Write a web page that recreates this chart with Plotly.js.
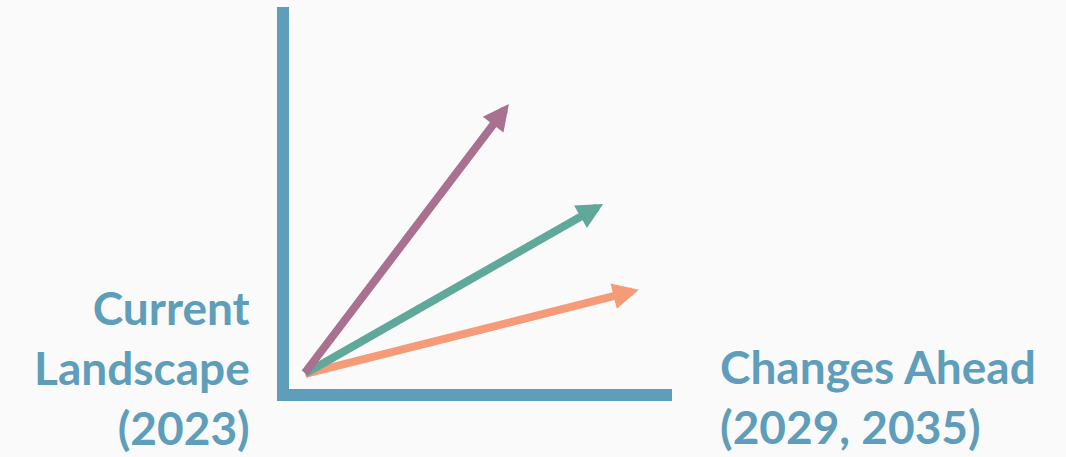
<!DOCTYPE html>
<html>
<head>
<meta charset="utf-8">
<script src="https://cdn.plot.ly/plotly-3.0.1.min.js"></script>
<style>
  html, body { margin: 0; padding: 0; background: #FAFAFA; }
  #chart { width: 1066px; height: 457px; }
</style>
</head>
<body>
<div id="chart"></div>
<script>
// ---- data ----
const arrowNames = ['2035 (high)', '2029', '2035 (low)'];
const arrowStartX = [0, 0, 0];
const arrowStartY = [0, 0, 0];
const arrowEndX = [5.57, 8.13, 9.10];
const arrowEndY = [7.36, 4.64, 2.30];
const leftLabel = ['Current', 'Landscape', '(2023)'];
const rightLabel = ['Changes Ahead', '(2029, 2035)'];

// ---- styles ----
const axisColor = '#5E9EBA';
const arrowColors = ['#AA7090', '#5FA89A', '#F59B78'];
const drawOrder = [2, 1, 0];

const annotations = [];
drawOrder.forEach(i => {
  annotations.push({
    x: arrowEndX[i], y: arrowEndY[i], xref: 'x', yref: 'y',
    ax: arrowStartX[i], ay: arrowStartY[i], axref: 'x', ayref: 'y',
    text: '', showarrow: true,
    arrowhead: 2, arrowsize: 0.65, arrowwidth: 8, arrowcolor: arrowColors[i],
    standoff: 0, startstandoff: 0
  });
});

const labelFont = { family: 'Lato, "Open Sans", sans-serif', size: 46, weight: 700, color: axisColor };
annotations.push({
  xref: 'paper', yref: 'paper', x: -0.0966, y: 0.055,
  xanchor: 'right', yanchor: 'middle', align: 'right',
  text: leftLabel.join('<br>'), showarrow: false, font: labelFont
});
annotations.push({
  xref: 'paper', yref: 'paper', x: 1.120, y: -0.020,
  xanchor: 'left', yanchor: 'middle', align: 'left',
  text: rightLabel.join('<br>'), showarrow: false, font: labelFont
});

const traces = [{
  x: arrowStartX, y: arrowStartY, type: 'scatter', mode: 'markers',
  marker: { size: 1, opacity: 0 }, hoverinfo: 'skip', showlegend: false
}];

const axisCommon = {
  range: [-0.4, 10], showgrid: false, zeroline: false, showticklabels: false,
  ticks: '', showline: true, linewidth: 12, linecolor: axisColor, fixedrange: true
};

const layout = {
  width: 1066, height: 457,
  margin: { l: 289, r: 394, t: 7, b: 68, pad: 0 },
  paper_bgcolor: '#FAFAFA', plot_bgcolor: '#FAFAFA',
  xaxis: Object.assign({}, axisCommon),
  yaxis: Object.assign({}, axisCommon),
  showlegend: false,
  annotations: annotations
};

Plotly.newPlot('chart', traces, layout, { displayModeBar: false, staticPlot: true });
</script>
</body>
</html>
